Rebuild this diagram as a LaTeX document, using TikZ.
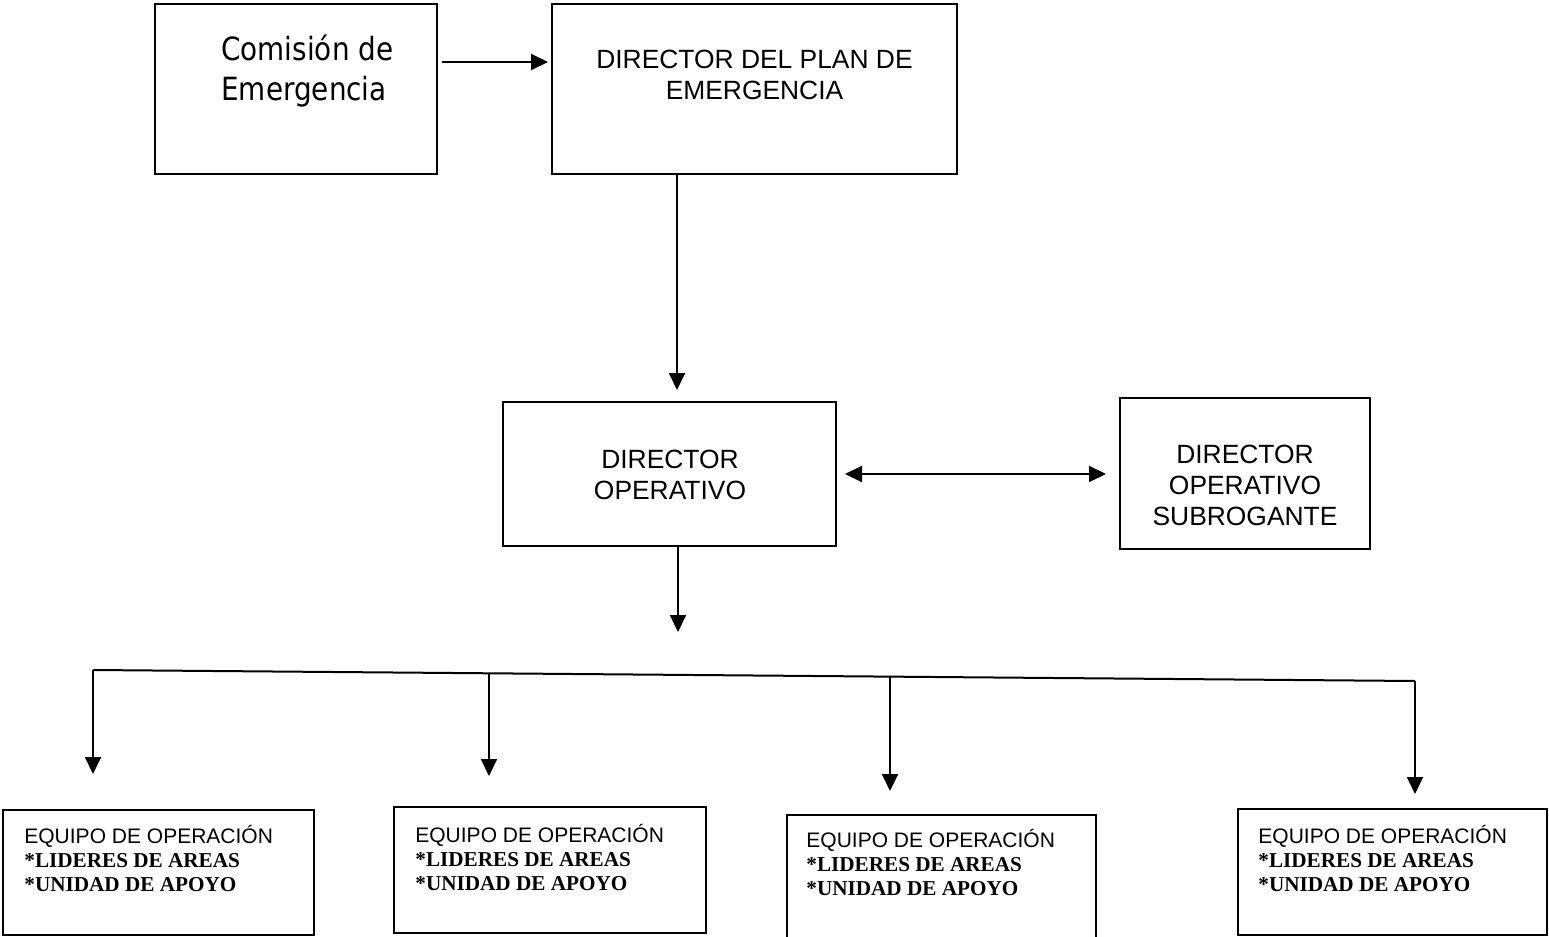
\documentclass[tikz,border=0pt]{standalone}
\usepackage{fontspec}
\setmainfont{Liberation Sans}
\newfontfamily\tahoma[FakeStretch=0.87]{DejaVu Sans}
\newfontfamily\timesb{Liberation Serif}
\usetikzlibrary{arrows.meta}
\newcommand{\negrita}[1]{{\timesb\bfseries\fontsize{10.6}{12}\selectfont #1}}
\tikzset{
    caja/.style={draw, line width=1pt, inner sep=0pt},
    texto/.style={align=center, font=\fontsize{13.2}{15.5}\selectfont},
    equipo/.style={align=left, anchor=west, inner sep=0pt, font=\fontsize{10.5}{12}\selectfont},
    flecha/.style={line width=1pt, -{Triangle[length=8.5pt, width=8pt]}},
    doble/.style={line width=1pt, {Triangle[length=8.5pt, width=8pt]}-{Triangle[length=8.5pt, width=8pt]}}
}
\begin{document}
\begin{tikzpicture}[x=0.5pt, y=-0.5pt]
    \useasboundingbox (0, 0) rectangle (1549, 937);
    % cajas superiores
    \node[caja, minimum width=141pt, minimum height=85pt] (com) at (296, 89) {};
    \node[align=left, anchor=west, inner sep=0pt, font=\tahoma\fontsize{16}{20}\selectfont] (comtxt) at (221, 71) {Comisión de\\Emergencia};
    \node[caja, minimum width=202.5pt, minimum height=85pt] (plan) at (754.5, 89) {};
    \node[texto] (plantxt) at (754.5, 74.5) {DIRECTOR DEL PLAN DE\\EMERGENCIA};
    \draw[flecha] ([xshift=2pt, yshift=13.5pt]com.east) -- ([xshift=-1.5pt, yshift=13.5pt]plan.west);
    % directores
    \node[caja, minimum width=166.5pt, minimum height=72pt] (oper) at (669.5, 474) {};
    \node[texto] (opertxt) at (670, 475) {DIRECTOR\\OPERATIVO};
    \node[caja, minimum width=125pt, minimum height=75.5pt] (subr) at (1245, 473.5) {};
    \node[texto] (subrtxt) at (1245, 485) {DIRECTOR\\OPERATIVO\\SUBROGANTE};
    \coordinate (dn1) at (677, 390);
    \coordinate (dn2) at (678, 632);
    \draw[flecha] (plan.south -| dn1) -- (dn1);
    \draw[doble, shorten <=4pt, shorten >=6.5pt] (oper.east) -- (oper.east -| subr.west);
    \draw[flecha] (oper.south -| dn2) -- (dn2);
    % equipos de operacion
    \node[caja, minimum width=155.5pt, minimum height=62.5pt] (eq1) at (158.5, 872.5) {};
    \node[caja, minimum width=156pt, minimum height=63pt] (eq2) at (550, 870) {};
    \node[caja, minimum width=154.5pt, minimum height=62.5pt] (eq3) at (941.5, 877.5) {};
    \node[caja, minimum width=154.5pt, minimum height=63pt] (eq4) at (1392.5, 872) {};
    \foreach \i/\x/\y in {1/24/858, 2/415/857, 3/806/862, 4/1258/858}
        \node[equipo] (eq\i txt) at (\x, \y) {EQUIPO DE OPERACIÓN\\\negrita{*LIDERES DE AREAS}\\\negrita{*UNIDAD DE APOYO}};
    \coordinate (b1) at (93, 670);
    \coordinate (b2) at (489, 673.3);
    \coordinate (b3) at (890, 676.6);
    \coordinate (b4) at (1415, 681);
    \draw[line width=1pt] (b1) -- (b4);
    \foreach \i/\g in {1/17.5pt, 2/15pt, 3/11.5pt, 4/7pt}
        \draw[flecha, shorten >=\g] (b\i) -- (b\i |- eq\i.north);
\end{tikzpicture}
\end{document}
